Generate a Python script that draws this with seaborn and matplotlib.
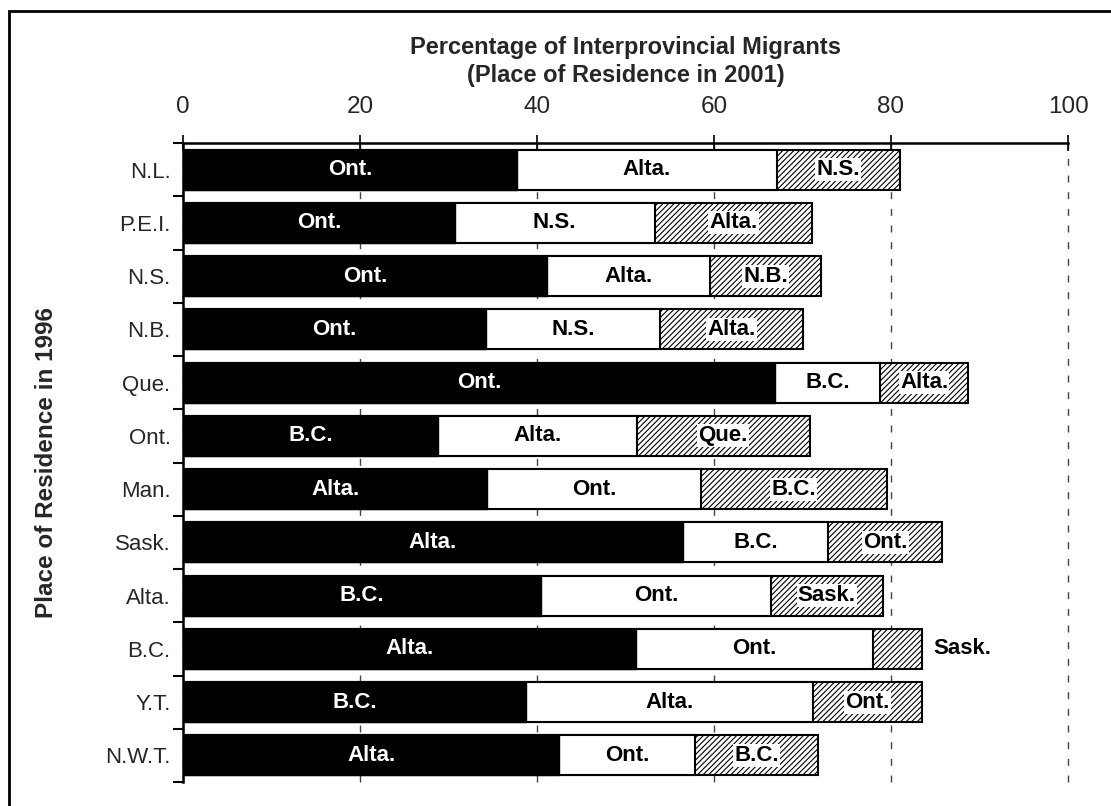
import matplotlib
matplotlib.use("Agg")
import matplotlib.pyplot as plt
import seaborn as sns
import pandas as pd
import numpy as np
from matplotlib.patches import Rectangle

# ---- data ----
provinces = ["N.L.", "P.E.I.", "N.S.", "N.B.", "Que.", "Ont.", "Man.",
             "Sask.", "Alta.", "B.C.", "Y.T.", "N.W.T."]
first_pct = [37.7, 30.7, 41.1, 34.2, 66.9, 28.8, 34.4, 56.5, 40.5, 51.2, 38.8, 42.5]
second_pct = [29.4, 22.6, 18.5, 19.7, 11.9, 22.5, 24.1, 16.4, 25.9, 26.8, 32.4, 15.4]
third_pct = [13.9, 17.8, 12.5, 16.2, 9.9, 19.5, 21.0, 12.9, 12.7, 5.5, 12.3, 13.9]
first_dest = ["Ont.", "Ont.", "Ont.", "Ont.", "Ont.", "B.C.", "Alta.", "Alta.",
              "B.C.", "Alta.", "B.C.", "Alta."]
second_dest = ["Alta.", "N.S.", "Alta.", "N.S.", "B.C.", "Alta.", "Ont.", "B.C.",
               "Ont.", "Ont.", "Alta.", "Ont."]
third_dest = ["N.S.", "Alta.", "N.B.", "Alta.", "Alta.", "Que.", "B.C.", "Ont.",
              "Sask.", "Sask.", "Ont.", "B.C."]
x_ticks = [0, 20, 40, 60, 80, 100]

df = pd.DataFrame({"prov": provinces, "p1": first_pct, "p2": second_pct, "p3": third_pct})
df["c1"] = df["p1"]
df["c2"] = df["p1"] + df["p2"]
df["c3"] = df["c2"] + df["p3"]

sns.set_theme(style="white")
plt.rcParams["font.family"] = ["Liberation Sans", "DejaVu Sans"]
plt.rcParams["hatch.linewidth"] = 0.8
plt.rcParams["hatch.color"] = "#333333"

fig = plt.figure(figsize=(11.11, 8.06), dpi=100)
ax = fig.add_axes([183 / 1111, 1 - 782 / 806, (1068 - 183) / 1111, (782 - 143) / 806])

bw = 0.75
sns.barplot(data=df, x="c3", y="prov", orient="h", color="white", saturation=1,
            width=bw, edgecolor="black", linewidth=1.5, hatch="//////", ax=ax, zorder=2)
sns.barplot(data=df, x="c2", y="prov", orient="h", color="white", saturation=1,
            width=bw, edgecolor="black", linewidth=1.5, ax=ax, zorder=3)
sns.barplot(data=df, x="c1", y="prov", orient="h", color="black", saturation=1,
            width=bw, edgecolor="black", linewidth=1.0, ax=ax, zorder=4)

ax.set_xlim(0, 100)
ax.set_ylim(11.5, -0.5)
ax.set_xticks(x_ticks)
ax.xaxis.tick_top()
ax.xaxis.set_label_position("top")
ax.tick_params(axis="x", which="major", direction="inout", length=12, width=1.2,
               labelsize=17.5, pad=12, top=True, bottom=False, color="black")
ax.set_xlabel("Percentage of Interprovincial Migrants\n(Place of Residence in 2001)",
              fontsize=17, fontweight="bold", labelpad=10, linespacing=1.3)

ax.set_yticks(range(len(provinces)))
ax.set_yticklabels(provinces)
ax.set_yticks(np.arange(-0.5, len(provinces), 1.0), minor=True)
ax.tick_params(axis="y", which="major", length=0, labelsize=16, pad=9)
ax.tick_params(axis="y", which="minor", direction="out", length=7, width=1.5,
               left=True, color="black")
ax.set_ylabel("Place of Residence in 1996", fontsize=17.5, fontweight="bold", labelpad=34)

ax.xaxis.grid(True, linestyle=(0, (5, 7)), color="#444444", linewidth=1.0)
ax.yaxis.grid(False)
ax.set_axisbelow(True)
for gl in ax.get_xgridlines():
    gl.set_clip_on(False)
for s in ["right", "bottom"]:
    ax.spines[s].set_visible(False)
for s in ["left", "top"]:
    ax.spines[s].set_visible(True)
    ax.spines[s].set_color("black")
    ax.spines[s].set_linewidth(1.8)
    ax.spines[s].set_zorder(6)

# ---- segment labels ----
fs = 16
for i in range(len(provinces)):
    c1, c2, c3 = df.loc[i, "c1"], df.loc[i, "c2"], df.loc[i, "c3"]
    ax.text(c1 / 2, i, first_dest[i], color="white", fontsize=fs, fontweight="bold",
            ha="center", va="center", zorder=7)
    ax.text((c1 + c2) / 2, i, second_dest[i], color="black", fontsize=fs,
            fontweight="bold", ha="center", va="center", zorder=7)
    if third_pct[i] >= 8:
        ax.text((c2 + c3) / 2, i, third_dest[i], color="black", fontsize=fs,
                fontweight="bold", ha="center", va="center", zorder=7,
                bbox=dict(facecolor="white", edgecolor="none", pad=0.8))
    else:
        ax.text(c3 + 1.3, i, third_dest[i], color="black", fontsize=fs,
                fontweight="bold", ha="left", va="center", zorder=7)

# ---- figure border ----
fig.patches.append(Rectangle((9 / 1111, -0.5), 2.0, 0.5 + (1 - 11 / 806),
                             transform=fig.transFigure, fill=False,
                             edgecolor="black", linewidth=2.0, figure=fig))

fig.savefig("out.png", dpi=100)
